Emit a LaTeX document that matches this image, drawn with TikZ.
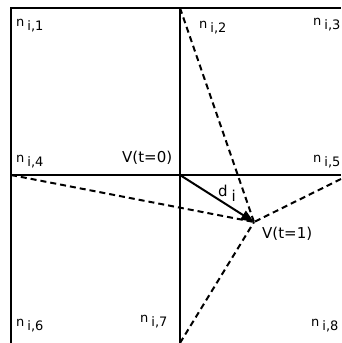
\documentclass[tikz,border=0pt]{standalone}
\usepackage{fontspec}
\setmainfont{DejaVu Sans}
\usetikzlibrary{arrows.meta}
\begin{document}
\begin{tikzpicture}[x=1pt,y=-1pt,
  grid/.style={line width=2.3pt},
  dsh/.style={line width=2pt,dash pattern=on 6pt off 4pt},
  lbl/.style={inner sep=0pt,anchor=base west,font=\fontsize{13}{15}\selectfont},
  vlbl/.style={inner sep=0pt,anchor=base west,font=\fontsize{15}{17}\selectfont},
  arr/.style={line width=2pt,-{Triangle[length=13pt,width=10pt]}}]
\useasboundingbox (0,0) rectangle (341,343);
\coordinate (tl) at (11,8);
\coordinate (tm) at (180,8);
\coordinate (tr) at (341,8);
\coordinate (ml) at (11,175);
\coordinate (c) at (180,175);
\coordinate (mr) at (341,175);
\coordinate (bl) at (11,343);
\coordinate (bm) at (180,343);
\coordinate (re) at (341,179);
\coordinate (p) at (254,222);
\draw[grid] (bl) -- (tl) -- (tr);
\draw[grid] (tm) -- (bm);
\draw[grid] (ml) -- (mr);
\draw[dsh] (tm) -- (p);
\draw[dsh] (ml) -- (p);
\draw[dsh] (re) -- (p);
\draw[dsh] (bm) -- (p);
\draw[arr] (c) -- (p);
\newcommand{\nlab}[1]{n\hspace{3pt}\raisebox{-4.5pt}{#1}}
\node[lbl] (n1) at (16,26) {\nlab{i,1}};
\node[lbl] (n2) at (199,28) {\nlab{i,2}};
\node[lbl] (n3) at (313,25) {\nlab{i,3}};
\node[lbl] (n4) at (16,162) {\nlab{i,4}};
\node[vlbl] (v0) at (122,162) {V(t=0)};
\node[lbl] (n5) at (313,162) {\nlab{i,5}};
\node[vlbl] (d) at (218,196) {d\hspace{4pt}\raisebox{-5pt}{i}};
\node[vlbl] (v1) at (262,238) {V(t=1)};
\node[lbl] (n6) at (16,326) {\nlab{i,6}};
\node[lbl] (n7) at (140,322) {\nlab{i,7}};
\node[lbl] (n8) at (311,326) {\nlab{i,8}};
\end{tikzpicture}
\end{document}
